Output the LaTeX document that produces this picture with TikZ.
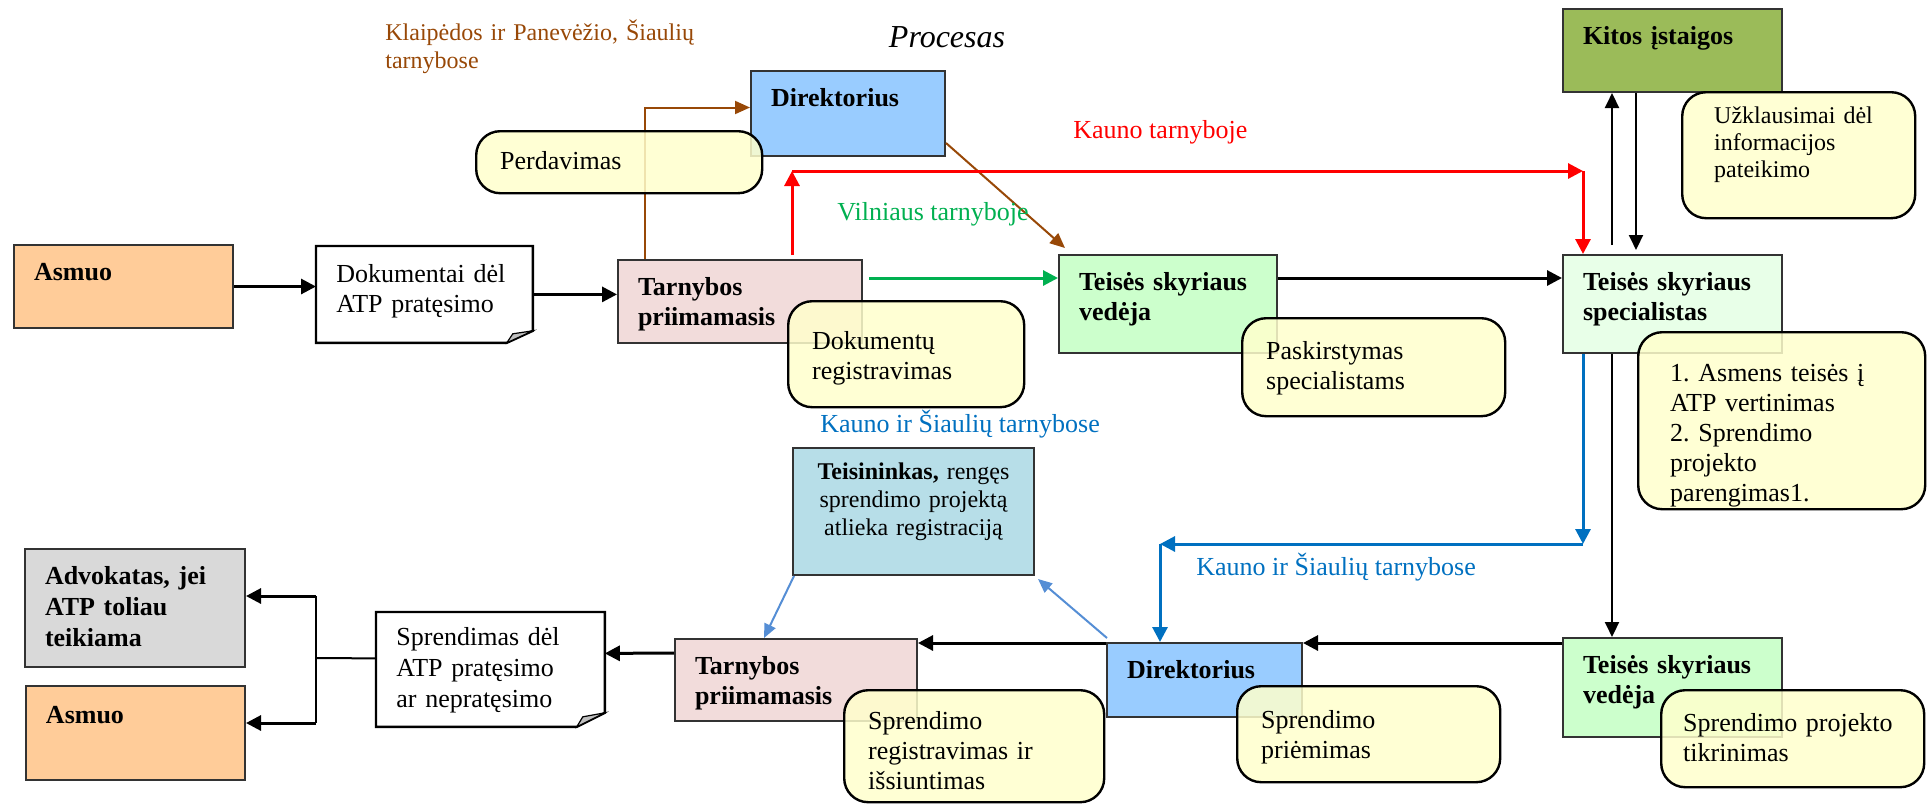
\documentclass[tikz,border=0pt]{standalone}
\usepackage{fontspec}
\setmainfont{Liberation Serif}
\frenchspacing
\usepackage{tikz}
\usetikzlibrary{arrows.meta,
	calc,
	shapes}
\definecolor{asmfill}{HTML}{FFCC99}
\definecolor{dirfill}{HTML}{99CCFF}
\definecolor{tarnfill}{HTML}{F2DCDB}
\definecolor{vedfill}{HTML}{CCFFCC}
\definecolor{specfill}{HTML}{E8FFE8}
\definecolor{kitfill}{HTML}{9BBB59}
\definecolor{teisfill}{HTML}{B7DEE8}
\definecolor{advfill}{HTML}{D9D9D9}
\definecolor{notefill}{HTML}{FFFFCC}
\definecolor{brownc}{HTML}{984807}
\definecolor{greenc}{HTML}{00B050}
\definecolor{bluec}{HTML}{0070C0}
\definecolor{lbluec}{HTML}{558ED5}

\begin{document}
\begin{tikzpicture}[x=0.5pt,y=-0.5pt]
      \tikzstyle{box}=[draw=black!80,line width=1pt,anchor=north west,inner xsep=10pt,inner ysep=0pt,text height=17.5pt,align=left,font=\fontsize{13}{15}\selectfont\bfseries]
      \tikzstyle{doc}=[fill=white,anchor=north west,inner xsep=10pt,inner ysep=0pt,align=left,font=\fontsize{13}{15}\selectfont]
      \tikzstyle{note}=[draw=black,line width=1.2pt,rounded corners=12pt,fill=notefill,fill opacity=0.85,text opacity=1,anchor=north west,inner xsep=12pt,inner ysep=0pt,align=left,font=\fontsize{13}{15}\selectfont]
      \tikzstyle{lbl}=[inner sep=0pt,font=\fontsize{13}{15}\selectfont]
      \tikzstyle{arr}=[line width=1.5pt,-{Triangle[length=7.5pt,width=7.5pt]}]
      \tikzstyle{thinarr}=[line width=1pt,-{Triangle[length=7.5pt,width=7pt]}]
      \useasboundingbox (0,0) rectangle (1932,804);
      \node[box,fill=asmfill,text width=89.5pt,text depth=24pt] (asmuo_1) at (13,244) {Asmuo};
      \node[doc,text width=88pt,text height=18pt,text depth=30pt] (dok_1) at (316,246) {Dokumentai dėl\\ATP pratęsimo};
      \node[box,fill=tarnfill,text width=102pt,text depth=24pt] (tarn_1) at (617,259) {Tarnybos\\priimamasis};
      \node[box,fill=dirfill,text width=77pt,text depth=25pt] (dir_1) at (750,70) {Direktorius};
      \node[box,fill=vedfill,text width=89pt,text depth=31.5pt] (ved_1) at (1058,254) {Teisės skyriaus\\vedėja};
      \node[box,fill=specfill,text width=89.5pt,text depth=31.5pt] (spec) at (1562,254) {Teisės skyriaus\\specialistas};
      \node[box,fill=kitfill,text width=89.5pt,text depth=24pt] (kitos) at (1562,8) {Kitos įstaigos};
      \node[box,fill=teisfill,align=center,inner xsep=6pt,text width=108.5pt,text height=15.5pt,text depth=48pt,font=\fontsize{12}{14}\selectfont] (teis) at (792,447) {\textbf{Teisininkas,} rengęs\\sprendimo projektą\\atlieka registraciją};
      \node[box,fill=dirfill,text width=77.5pt,text depth=19.5pt] (dir_2) at (1106,642) {Direktorius};
      \node[box,fill=vedfill,text width=89.5pt,text depth=32pt] (ved_2) at (1562,637) {Teisės skyriaus\\vedėja};
      \node[box,fill=tarnfill,text width=101pt,text depth=23.5pt] (tarn_2) at (674,638) {Tarnybos\\priimamasis};
      \node[doc,text width=94pt,text height=16.5pt,text depth=40.5pt,font=\fontsize{13}{15.5}\selectfont] (dok_2) at (376,612) {Sprendimas dėl\\ATP pratęsimo\\ar nepratęsimo};
      \node[box,fill=advfill,text width=90pt,text depth=41.5pt,font=\fontsize{13}{15.5}\selectfont\bfseries] (adv) at (24,548) {Advokatas, jei\\ATP toliau\\teikiama};
      \node[box,fill=asmfill,text width=89.5pt,text height=18.5pt,text depth=28.5pt] (asmuo_2) at (25,685) {Asmuo};
      \draw[line width=1.2pt] (dok_1.south west) -- (dok_1.north west) -- (dok_1.north east) -- ([yshift=6pt]dok_1.south east) -- ([xshift=-13pt]dok_1.south east) -- cycle;
      \filldraw[fill=black!25,line width=0.6pt] ([xshift=-13pt]dok_1.south east) -- ([yshift=6pt]dok_1.south east) -- ([xshift=-10pt,yshift=4.5pt]dok_1.south east) -- cycle;
      \draw[line width=1.2pt] (dok_2.south west) -- (dok_2.north west) -- (dok_2.north east) -- ([yshift=7pt]dok_2.south east) -- ([xshift=-14pt]dok_2.south east) -- cycle;
      \filldraw[fill=black!25,line width=0.6pt] ([xshift=-14pt]dok_2.south east) -- ([yshift=7pt]dok_2.south east) -- ([xshift=-11pt,yshift=5pt]dok_2.south east) -- cycle;
      \coordinate (r_1) at (792,171);
      \coordinate (r_2) at (1583,171);
      \coordinate (b_1) at (1583,544);
      \coordinate (b_2) at (1160,544);
      \coordinate (f_0) at (316,658);
      \coordinate (f_1) at (316,596);
      \coordinate (f_2) at (316,723);
      \draw[arr] (asmuo_1.east) -- (asmuo_1.east -| dok_1.west);
      \draw[arr] (dok_1.east) -- (dok_1.east -| tarn_1.west);
      \draw[line width=1pt,brownc,-{Triangle[length=7.5pt,width=6.5pt]}] ([xshift=14pt]tarn_1.north west) |- ([yshift=3pt]dir_1.west);
      \draw[line width=1pt,brownc,-{Triangle[length=7.5pt,width=6.5pt]}] ([yshift=7pt]dir_1.south east) -- ([xshift=3.5pt,yshift=3pt]ved_1.north west);
      \draw[arr,red] ([xshift=87.5pt,yshift=2pt]tarn_1.north west) -- (r_1);
      \draw[arr,red] (r_1) -- (r_2);
      \draw[arr,red] (r_2) -- ([xshift=10.5pt]spec.north west);
      \draw[arr,greenc] ([xshift=3pt,yshift=11.75pt]tarn_1.east) -- ([yshift=13pt]ved_1.west);
      \draw[arr] ([yshift=13pt]ved_1.east) -- ([yshift=13pt]spec.west);
      \draw[thinarr] ([xshift=25pt,yshift=4.5pt]spec.north west) -- ([xshift=25pt]kitos.south west);
      \draw[thinarr] ([xshift=37pt]kitos.south west) -- ([xshift=37pt,yshift=2pt]spec.north west);
      \draw[thinarr] ([xshift=25pt]spec.south west) -- ([xshift=25pt]ved_2.north west);
      \draw[arr,bluec] ([xshift=10.5pt]spec.south west) -- (b_1);
      \draw[arr,bluec] (b_1) -- (b_2);
      \draw[arr,bluec] (b_2) -- (b_2 |- dir_2.north);
      \draw[arr] ([yshift=-3pt]ved_2.north west) -- ([yshift=-0.5pt]dir_2.north east);
      \draw[arr] ([yshift=-0.5pt]dir_2.north west) -- ([yshift=-2.5pt]tarn_2.north east);
      \draw[line width=1pt,lbluec,-{Triangle[length=7pt,width=6pt]}] ([xshift=0.5pt,yshift=2pt]dir_2.north west) -- ([xshift=1.5pt,yshift=-1.5pt]teis.south east);
      \draw[line width=1pt,lbluec,-{Triangle[length=7pt,width=6pt]}] ([xshift=1pt]teis.south west) -- ([xshift=45pt]tarn_2.north west);
      \draw[arr] ([yshift=-7.5pt]tarn_2.north west) -- ([yshift=8pt]dok_2.east);
      \draw[line width=1pt] ([yshift=5.5pt]dok_2.west) -- (f_0);
      \draw[line width=1pt] (f_1) -- (f_2);
      \draw[arr] (f_1) -- (f_1 -| adv.east);
      \draw[arr] (f_2) -- (f_2 -| asmuo_2.east);
      \node[note,text width=119pt,text height=19pt,text depth=12pt] (perd) at (475,130) {Perdavimas};
      \node[note,text width=94pt,text height=24pt,text depth=29pt] (reg_1) at (787,300) {Dokumentų\\registravimas};
      \node[note,text width=107.5pt,text height=20.5pt,text depth=28.5pt] (pask) at (1241,317) {Paskirstymas\\specialistams};
      \node[note,inner xsep=16pt,font=\fontsize{12}{13.5}\selectfont,text width=84.5pt,text height=15.5pt,text depth=47.5pt] (uzkl) at (1681,91) {Užklausimai dėl\\informacijos\\pateikimo};
      \node[note,inner xsep=16pt,text width=111.5pt,text height=24.5pt,text depth=64pt] (vert) at (1637,331) {1. Asmens teisės į\\ATP vertinimas\\2. Sprendimo\\projekto\\parengimas1.};
      \node[note,text width=107.5pt,text height=21pt,text depth=27pt] (prie) at (1236,685) {Sprendimo\\priėmimas};
      \node[note,inner xsep=11pt,text width=109.5pt,text height=20.5pt,text depth=28pt] (tikr) at (1660,689) {Sprendimo projekto\\tikrinimas};
      \node[note,text width=106pt,text height=19.5pt,text depth=36.5pt] (isiu) at (843,689) {Sprendimo\\registravimas ir\\išsiuntimas};
      \node[lbl,text=brownc,anchor=base west,align=left,text width=170pt,font=\fontsize{12}{14}\selectfont] (klai) at (385,40) {Klaipėdos ir Panevėžio, Šiaulių\\tarnybose};
      \node[lbl,anchor=base,font=\fontsize{16}{19}\selectfont\itshape] (proc) at (947,47) {Procesas};
      \node[lbl,text=red,anchor=base west] (kaun) at (1073,138) {Kauno tarnyboje};
      \node[lbl,text=greenc,anchor=base west] (viln) at (837,220) {Vilniaus tarnyboje};
      \node[lbl,text=bluec,anchor=base west] (ks_1) at (820,432) {Kauno ir Šiaulių tarnybose};
      \node[lbl,text=bluec,anchor=base west] (ks_2) at (1196,575) {Kauno ir Šiaulių tarnybose};
    \end{tikzpicture}
\end{document}
